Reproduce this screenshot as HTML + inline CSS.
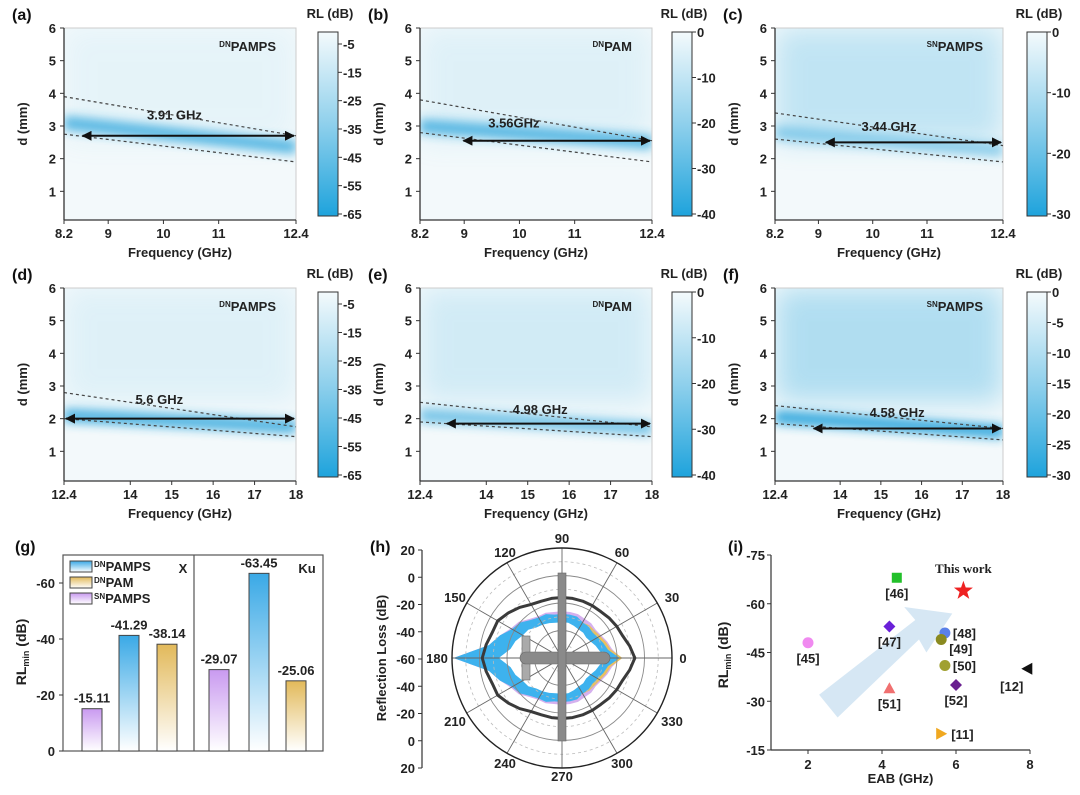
<!DOCTYPE html>
<html><head><meta charset="utf-8"><style>
body{margin:0;background:#fff}
svg{display:block;font-family:"Liberation Sans",Arial,sans-serif;font-weight:bold}
</style></head><body>
<svg id="s" width="1080" height="795" viewBox="0 0 1080 795" xmlns="http://www.w3.org/2000/svg">
<defs>
<linearGradient id="cbg" x1="0" y1="0" x2="0" y2="1"><stop offset="0" stop-color="#f4fafc"/><stop offset="0.5" stop-color="#8fd0ec"/><stop offset="1" stop-color="#1ea3dc"/></linearGradient>
<linearGradient id="gBlue" x1="0" y1="0" x2="0" y2="1"><stop offset="0" stop-color="#3aa9e6"/><stop offset="1" stop-color="#ffffff"/></linearGradient>
<linearGradient id="gGold" x1="0" y1="0" x2="0" y2="1"><stop offset="0" stop-color="#e2b95a"/><stop offset="1" stop-color="#ffffff"/></linearGradient>
<linearGradient id="gLil" x1="0" y1="0" x2="0" y2="1"><stop offset="0" stop-color="#c99af0"/><stop offset="1" stop-color="#ffffff"/></linearGradient>
<filter id="blur" x="-20%" y="-200%" width="140%" height="500%"><feGaussianBlur stdDeviation="5"/></filter>
<filter id="blur2" x="-20%" y="-50%" width="140%" height="200%"><feGaussianBlur stdDeviation="14"/></filter>
<marker id="ah" viewBox="0 0 10 10" refX="9" refY="5" markerWidth="5" markerHeight="5" orient="auto-start-reverse"><path d="M0,0L10,5L0,10z" fill="#111"/></marker>
</defs>
</svg>
<script>
// ---------- heatmap panel data ----------
const panelNames=['a','b','c','d','e','f'];
const panelTitles=['DN|PAMPS','DN|PAM','SN|PAMPS','DN|PAMPS','DN|PAM','SN|PAMPS'];
const xRanges=[[8.2,12.4],[8.2,12.4],[8.2,12.4],[12.4,18],[12.4,18],[12.4,18]];
const xTicks=[[8.2,9,10,11,12.4],[8.2,9,10,11,12.4],[8.2,9,10,11,12.4],[12.4,14,15,16,17,18],[12.4,14,15,16,17,18],[12.4,14,15,16,17,18]];
const upperBound=[[3.9,2.7],[3.8,2.55],[3.4,2.4],[2.8,1.75],[2.5,1.75],[2.4,1.7]];
const lowerBound=[[2.75,1.9],[2.8,1.9],[2.6,1.9],[2.0,1.45],[1.9,1.45],[1.85,1.35]];
const bandCenter=[[3.1,2.35],[3.0,2.5],[2.8,2.25],[2.1,1.75],[2.1,1.7],[2.05,1.6]];
const bandStrength=[0.75,0.75,0.45,0.8,0.6,0.9];
const upperTint=[0.08,0.12,0.3,0.12,0.2,0.4];
const arrowY=[2.7,2.55,2.5,2.0,1.85,1.7];
const arrowX0=[8.5,8.95,9.1,12.4,13.0,13.3];
const ebLabel=['3.91 GHz','3.56GHz','3.44 GHz','5.6 GHz','4.98 GHz','4.58 GHz'];
const ebLabelPos=[[10.2,3.2],[9.9,2.95],[10.3,2.85],[14.7,2.45],[15.3,2.15],[15.4,2.05]];
const cbTicks=[[-5,-15,-25,-35,-45,-55,-65],[0,-10,-20,-30,-40],[0,-10,-20,-30],[-5,-15,-25,-35,-45,-55,-65],[0,-10,-20,-30,-40],[0,-5,-10,-15,-20,-25,-30]];
const yTicks=[1,2,3,4,5,6];

const NS='http://www.w3.org/2000/svg';
const S=document.getElementById('s');
const DEFS=S.querySelector('defs');
function mk(tag,attrs,parent,txt){const e=document.createElementNS(NS,tag);for(const k in attrs)e.setAttribute(k,attrs[k]);if(txt!==undefined)e.textContent=txt;(parent||S).appendChild(e);return e;}

const layoutX=[[64,296,318],[420,652,672],[775,1003,1027]];
const layoutY=[[28,220,224],[288,481,484]];
for(let i=0;i<6;i++){
  const col=i%3,row=Math.floor(i/3);
  const [L,R,CB]=layoutX[col];const [T,B,Y0]=layoutY[row];
  const unit=(Y0-T)/6;
  const xr=xRanges[i];
  const sx=v=>L+(v-xr[0])/(xr[1]-xr[0])*(R-L);
  const sy=v=>Y0-v*unit;
  const cp=mk('clipPath',{id:'clip'+i},DEFS);
  mk('rect',{x:L,y:T,width:R-L,height:B-T},cp);
  const g=mk('g',{});
  
  
  const hg=mk('g',{'clip-path':'url(#clip'+i+')'},g);
  mk('rect',{x:L,y:T,width:R-L,height:B-T,fill:'#f3f9fb'},hg);
  const up=mk('rect',{x:L,y:T,width:R-L,height:sy(2.5)-T,fill:'#4db5e2',opacity:upperTint[i],filter:'url(#blur2)'},hg);
  
  
  const band=mk('line',{x1:L,y1:sy(bandCenter[i][0]),x2:R,y2:sy(bandCenter[i][1]),stroke:'#2aa4dc','stroke-width':14,opacity:bandStrength[i],filter:'url(#blur)'},hg);
  
  
  mk('rect',{x:L,y:T,width:R-L,height:B-T,fill:'none',stroke:'#ccc','stroke-width':1},g);
  const ub=mk('line',{x1:L,y1:sy(upperBound[i][0]),x2:R,y2:sy(upperBound[i][1]),stroke:'#444','stroke-width':1.2,'stroke-dasharray':'3 3'},g);
  
  
  const lb=mk('line',{x1:L,y1:sy(lowerBound[i][0]),x2:R,y2:sy(lowerBound[i][1]),stroke:'#444','stroke-width':1.2,'stroke-dasharray':'3 3'},g);
  
  
  const ar=mk('line',{x1:sx(arrowX0[i])+2,y1:sy(arrowY[i]),x2:R-2,y2:sy(arrowY[i]),stroke:'#111','stroke-width':2,'marker-start':'url(#ah)','marker-end':'url(#ah)'},g);
  
  
  const el=mk('text',{x:sx(ebLabelPos[i][0]),y:sy(ebLabelPos[i][1]),'font-size':13,fill:'#222','text-anchor':'middle'},g,ebLabel[i]);
  
  
  const tp=panelTitles[i].split('|');
  const tt=mk('text',{x:R-20,y:T+23,'font-size':13,fill:'#222','text-anchor':'end'},g);
  
  
  mk('tspan',{'font-size':8,dy:-4},tt,tp[0]);mk('tspan',{dy:4},tt,tp[1]);
  mk('line',{x1:L,y1:T,x2:L,y2:B,stroke:'#333','stroke-width':1.3},g);
  mk('line',{x1:L,y1:B,x2:R,y2:B,stroke:'#333','stroke-width':1.3},g);
  yTicks.forEach(v=>{mk('line',{x1:L-4,y1:sy(v),x2:L,y2:sy(v),stroke:'#333'},g);
    const t=mk('text',{x:L-8,y:sy(v)+5,'font-size':13,'text-anchor':'end',fill:'#222'},g,String(v));
    
    });
  xTicks[i].forEach(v=>{mk('line',{x1:sx(v),y1:B,x2:sx(v),y2:B+4,stroke:'#333'},g);
    const t=mk('text',{x:sx(v),y:B+18,'font-size':13,'text-anchor':'middle',fill:'#222'},g,String(v));
    
    });
  const xt=mk('text',{x:(L+R)/2,y:B+37,'font-size':13,'text-anchor':'middle',fill:'#222'},g,'Frequency (GHz)');
  
  
  const yt=mk('text',{x:0,y:0,'font-size':13,'text-anchor':'middle',fill:'#222',transform:`translate(${L-37},${(T+B)/2}) rotate(-90)`},g,'d (mm)');
  
  
  const pl=mk('text',{x:L-52,y:T-8,'font-size':16,fill:'#111'},g,'('+panelNames[i]+')');
  
  
  const cT=T+4,cB=B-4;
  const cb=mk('rect',{x:CB,y:cT,width:20,height:cB-cT,fill:'url(#cbg)',stroke:'#333','stroke-width':1},g);
  
  
  const ct=mk('text',{x:CB+12,y:T-10,'font-size':13,'text-anchor':'middle',fill:'#222'},g,'RL (dB)');
  
  
  const tk=cbTicks[i];const off=(tk[0]===0)?0:12;
  tk.forEach((v,k)=>{const yy=cT+off+k*(cB-cT-off-2)/(tk.length-1);
    mk('line',{x1:CB+20,y1:yy,x2:CB+24,y2:yy,stroke:'#333'},g);
    const t=mk('text',{x:CB+25,y:yy+5,'font-size':13,fill:'#222'},g,String(v));
    
    });
}

// ---------- (g) bar chart ----------
const barGroups=['X','X','X','Ku','Ku','Ku'];
const barSamples=['SN','DN','DNPAM','SN','DN','DNPAM'];
const barValues=[-15.11,-41.29,-38.14,-29.07,-63.45,-25.06];
const barLabels=['-15.11','-41.29','-38.14','-29.07','-63.45','-25.06'];
const gYTicks=[0,-20,-40,-60];
(function(){
  const L=63,R=323,T=555,B=751,per=(B-583)/60;
  const sy=v=>B+v*per;
  const g=mk('g',{});
  
  
  const pl=mk('text',{x:15,y:552,'font-size':16,fill:'#111'},g,'(g)');
  
  
  mk('rect',{x:L,y:T,width:R-L,height:B-T,fill:'none',stroke:'#555','stroke-width':1.2},g);
  mk('line',{x1:194,y1:T,x2:194,y2:B,stroke:'#555','stroke-width':1.2},g);
  gYTicks.forEach(v=>{mk('line',{x1:L-4,y1:sy(v),x2:L,y2:sy(v),stroke:'#333'},g);
    const t=mk('text',{x:L-8,y:sy(v)+5,'font-size':13,'text-anchor':'end',fill:'#222'},g,String(v));
    
    });
  const fills={SN:'url(#gLil)',DN:'url(#gBlue)',DNPAM:'url(#gGold)'};
  const centers=[92,129,167,219,259,296];
  barValues.forEach((v,k)=>{
    const cx=centers[k];
    const b=mk('rect',{x:cx-10,y:sy(v),width:20,height:B-sy(v),fill:fills[barSamples[k]],stroke:'#444','stroke-width':1},g);
    
    
    const t=mk('text',{x:cx,y:sy(v)-6,'font-size':13,'text-anchor':'middle',fill:'#222'},g,barLabels[k]);
    
    
  });
  const leg=[['DN','PAMPS','url(#gBlue)'],['DN','PAM','url(#gGold)'],['SN','PAMPS','url(#gLil)']];
  leg.forEach((l,k)=>{const yy=561+k*16;
    const r=mk('rect',{x:70,y:yy,width:22,height:11,fill:l[2],stroke:'#444'},g);
    
    
    const t=mk('text',{x:94,y:yy+10,'font-size':13,fill:'#222'},g);
    
    
    mk('tspan',{'font-size':8,dy:-4},t,l[0]);mk('tspan',{dy:4},t,l[1]);});
  const gx=mk('text',{x:183,y:573,'font-size':13,'text-anchor':'middle',fill:'#222'},g,'X');
  
  
  const gk=mk('text',{x:307,y:573,'font-size':13,'text-anchor':'middle',fill:'#222'},g,'Ku');
  
  
  const yt=mk('text',{x:0,y:0,'font-size':14,'text-anchor':'middle',fill:'#222',transform:'translate(26,652) rotate(-90)'},g);
  
  
  mk('tspan',{},yt,'RL');mk('tspan',{'font-size':9,dy:3},yt,'min');mk('tspan',{dy:-3},yt,' (dB)');
})();

// ---------- (h) polar ----------
const polarAngles=[0,10,20,30,40,50,60,70,80,90,100,110,120,130,140,150,160,170,180,190,200,210,220,230,240,250,260,270,280,290,300,310,320,330,340,350];
const rcsPlane=[-7,-10,-13,-14,-15,-16,-16,-16,-16,-16,-16,-16,-15,-12,-9,-6,-6,-4,-2,-4,-6,-6,-9,-12,-15,-16,-16,-16,-16,-16,-16,-16,-15,-14,-13,-10];
const rcsBlue=[-18,-26,-28,-30,-31,-30,-30,-28,-28,-28,-28,-26,-26,-24,-20,-18,-12,-6,19,-6,-12,-18,-20,-24,-26,-26,-28,-28,-28,-28,-30,-30,-31,-30,-28,-26];
const rcsLilac=[-17,-23,-25,-27,-28,-27,-27,-26,-26,-26,-26,-25,-25,-23,-19,-17,-12,-6,19,-6,-12,-17,-19,-23,-25,-25,-26,-26,-26,-26,-27,-27,-28,-27,-25,-23];
const rcsGold=[-16,-24,-26,-28,-29,-29,-30,-29,-29,-29,-29,-27,-27,-25,-21,-19,-13,-7,18,-7,-13,-19,-21,-25,-27,-27,-29,-29,-29,-29,-30,-29,-29,-28,-26,-24];
const rcsInner=[-26,-32,-34,-36,-37,-36,-36,-35,-34,-34,-34,-33,-32,-31,-28,-27,-24,-22,-14,-22,-24,-27,-28,-31,-32,-33,-34,-34,-34,-35,-36,-36,-37,-36,-34,-32];
const polarTicks=[20,0,-20,-40,-60,-40,-20,0,20];
(function(){
  const cx=562,cy=658,R=110;
  const rr=v=>(v+60)*R/80;
  const pt=(a,v)=>{const r=Math.max(0,rr(v)),t=a*Math.PI/180;return [cx+r*Math.cos(t),cy-r*Math.sin(t)];};
  const g=mk('g',{});
  
  
  const pl=mk('text',{x:370,y:552,'font-size':16,fill:'#111'},g,'(h)');
  
  
  const poly=(vals,color,name,extra)=>{const p=polarAngles.map((a,k)=>pt(a,vals[k]).join(',')).join(' ');
    const e=mk('polygon',Object.assign({points:p,fill:color},extra||{}),g);
    
    return e;};
  poly(rcsLilac,'#d5b0ee','rcs-snpamps');
  poly(rcsGold,'#e8c060','rcs-dnpam');
  poly(rcsBlue,'#3db2ee','rcs-dnpamps');
  poly(rcsInner,'#ffffff','rcs-inner-clear');
  [-50,-30,-10,10].forEach(v=>mk('circle',{cx,cy,r:rr(v),fill:'none',stroke:'#bbb','stroke-dasharray':'3 3','stroke-width':0.8},g));
  [-40,-20,0].forEach(v=>mk('circle',{cx,cy,r:rr(v),fill:'none',stroke:'#888','stroke-width':0.9},g));
  for(let a=0;a<180;a+=30){const t=a*Math.PI/180;mk('line',{x1:cx-R*Math.cos(t),y1:cy+R*Math.sin(t),x2:cx+R*Math.cos(t),y2:cy-R*Math.sin(t),stroke:'#666','stroke-width':0.9},g);}
  poly(rcsPlane,'none','rcs-bare-plane',{stroke:'#3a3a3a','stroke-width':3,'stroke-linejoin':'round'});
  mk('circle',{cx,cy,r:R,fill:'none',stroke:'#222','stroke-width':1.4},g);
  const ap=mk('g',{fill:'#8a8a8a',stroke:'#666','stroke-width':0.6},g);
  
  
  mk('rect',{x:522,y:636,width:8,height:44,fill:'#aaa'},ap);
  mk('rect',{x:520,y:652,width:90,height:12,rx:6},ap);
  mk('rect',{x:558,y:573,width:8,height:168},ap);
  const angs=[[0,683,663],[30,672,602],[60,622,557],[90,562,543],[120,505,557],[150,455,602],[180,437,663],[210,455,726],[240,505,768],[270,562,781],[300,622,768],[330,672,726]];
  angs.forEach(a=>{const t=mk('text',{x:a[1],y:a[2],'font-size':13,'text-anchor':'middle',fill:'#222'},g,String(a[0]));
    
    });
  mk('line',{x1:422,y1:550,x2:422,y2:768,stroke:'#333','stroke-width':1.2},g);
  polarTicks.forEach((v,k)=>{const yy=550+k*(768-550)/8;
    mk('line',{x1:418,y1:yy,x2:422,y2:yy,stroke:'#333'},g);
    const t=mk('text',{x:415,y:yy+5,'font-size':13,'text-anchor':'end',fill:'#222'},g,String(v));
    
    });
  const yt=mk('text',{x:0,y:0,'font-size':13,'text-anchor':'middle',fill:'#222',transform:'translate(386,658) rotate(-90)'},g,'Reflection Loss (dB)');
  
  
})();

// ---------- (i) scatter ----------
const refLabels=['[46]','This work','[47]','[48]','[49]','[45]','[50]','[12]','[52]','[51]','[11]'];
const refEAB=[4.4,6.2,4.2,5.7,5.6,2.0,5.7,7.9,6.0,4.2,5.6];
const refRL=[-68,-64,-53,-51,-49,-48,-41,-40,-35,-34,-20];
const iXTicks=[2,4,6,8];
const iYTicks=[-75,-60,-45,-30,-15];
(function(){
  const L=771,R=1030,T=555,B=750;
  const sx=v=>L+(v-1)/7*(R-L);
  const sy=v=>T+(v+75)/60*(B-T);
  const g=mk('g',{});
  
  
  const pl=mk('text',{x:728,y:552,'font-size':16,fill:'#111'},g,'(i)');
  
  
  const arr=mk('polygon',{points:`${sx(2.3)},${sy(-32)} ${sx(4.9)},${sy(-55)} ${sx(4.6)},${sy(-59)} ${sx(5.9)},${sy(-57)} ${sx(5.2)},${sy(-45)} ${sx(5.0)},${sy(-49)} ${sx(2.8)},${sy(-25)}`,fill:'#c8dff0',opacity:0.75},g);
  
  
  mk('line',{x1:L,y1:T,x2:L,y2:B,stroke:'#333','stroke-width':1.2},g);
  mk('line',{x1:L,y1:B,x2:R,y2:B,stroke:'#333','stroke-width':1.2},g);
  iYTicks.forEach(v=>{mk('line',{x1:L-4,y1:sy(v),x2:L,y2:sy(v),stroke:'#333'},g);
    const t=mk('text',{x:L-6,y:sy(v)+5,'font-size':13,'text-anchor':'end',fill:'#222'},g,String(v));
    
    });
  iXTicks.forEach(v=>{mk('line',{x1:sx(v),y1:B,x2:sx(v),y2:B+4,stroke:'#333'},g);
    const t=mk('text',{x:sx(v),y:B+19,'font-size':13,'text-anchor':'middle',fill:'#222'},g,String(v));
    
    });
  const colors=['#22c02a','#ee2222','#6a20d8','#5a80e8','#8a8a20','#f08af0','#a0a030','#111','#6a2090','#f07070','#f0a820'];
  const lblOff=[[0,20,'middle'],[0,-18,'middle'],[0,20,'middle'],[8,5,'start'],[8,14,'start'],[0,20,'middle'],[8,5,'start'],[-3,22,'end'],[0,20,'middle'],[0,20,'middle'],[10,5,'start']];
  refEAB.forEach((x,k)=>{const px=sx(x),py=sy(refRL[k]),c=colors[k];let m;
    if(k===1){const p=[];for(let j=0;j<10;j++){const r=j%2?4:10,t=-Math.PI/2+j*Math.PI/5;p.push((px+r*Math.cos(t))+','+(py+r*Math.sin(t)));}m=mk('polygon',{points:p.join(' '),fill:c},g);}
    else if(k===0)m=mk('rect',{x:px-5,y:py-5,width:10,height:10,fill:c},g);
    else if(k===2||k===8)m=mk('polygon',{points:`${px},${py-6} ${px+6},${py} ${px},${py+6} ${px-6},${py}`,fill:c},g);
    else if(k===7)m=mk('polygon',{points:`${px+6},${py-6} ${px+6},${py+6} ${px-5},${py}`,fill:c},g);
    else if(k===9)m=mk('polygon',{points:`${px},${py-6} ${px+6},${py+5} ${px-6},${py+5}`,fill:c},g);
    else if(k===10)m=mk('polygon',{points:`${px-5},${py-6} ${px+6},${py} ${px-5},${py+6}`,fill:c},g);
    else m=mk('circle',{cx:px,cy:py,r:5.5,fill:c},g);
    
    
    const o=lblOff[k];
    const t=mk('text',{x:px+o[0],y:py+o[1],'font-size':13,'text-anchor':o[2],fill:'#222','font-family':k===1?'"Liberation Serif",serif':'"Liberation Sans",sans-serif'},g,refLabels[k]);
    
    
  });
  const xt=mk('text',{x:(L+R)/2,y:783,'font-size':13,'text-anchor':'middle',fill:'#222'},g,'EAB (GHz)');
  
  
  const yt=mk('text',{x:0,y:0,'font-size':14,'text-anchor':'middle',fill:'#222',transform:'translate(728,655) rotate(-90)'},g);
  
  
  mk('tspan',{},yt,'RL');mk('tspan',{'font-size':9,dy:3},yt,'min');mk('tspan',{dy:-3},yt,' (dB)');
})();
</script>
</body></html>
